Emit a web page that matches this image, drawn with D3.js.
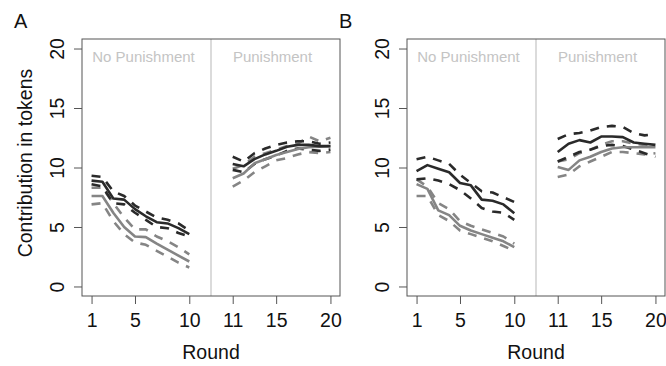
<!DOCTYPE html>
<html>
<head>
<meta charset="utf-8">
<script src="https://cdn.jsdelivr.net/npm/d3@7"></script>
<style>
  body { margin: 0; background: #fff; }
  svg { display: block; font-family: "Liberation Sans", Arial, Helvetica, sans-serif; }
</style>
</head>
<body>
<div id="chart"></div>
<script>
// rounds 1..20, values
const rounds = d3.range(1, 21);
const xTicks = [1, 5, 10, 11, 15, 20];
const yTicks = [0, 5, 10, 15, 20];
const phaseLabels = ["No Punishment", "Punishment"];

// panel A
const aDarkMean  = [8.9, 8.8, 7.4, 7.3, 6.5, 5.9, 5.4, 5.3, 4.9, 4.4,   10.3, 10.1, 10.7, 11.1, 11.4, 11.75, 11.9, 11.9, 11.8, 11.8];
const aDarkUpper = [9.3, 9.2, 8.0, 7.6, 6.8, 6.3, 5.8, 5.6, 5.3, 4.7,   10.9, 10.5, 11.2, 11.6, 11.9, 12.1, 12.2, 12.2, 12.0, 12.1];
const aDarkLower = [8.6, 8.4, 7.0, 6.9, 6.2, 5.6, 5.0, 4.9, 4.5, 4.2,   9.8, 9.6, 10.3, 10.7, 11.0, 11.4, 11.6, 11.5, 11.4, 11.5];
const aGrayMean  = [7.6, 7.6, 6.2, 5.0, 4.2, 4.15, 3.6, 3.1, 2.6, 2.1, 9.1, 9.5, 10.35, 10.7, 11.05, 11.3, 11.55, 11.7, 11.75, 11.8];
const aGrayUpper = [8.3, 8.3, 7.0, 5.8, 4.8, 4.8, 4.2, 3.8, 3.3, 2.7,  9.9, 10.2, 10.9, 11.2, 11.5, 11.8, 12.0, 12.6, 12.2, 12.5];
const aGrayLower = [6.9, 7.0, 5.5, 4.4, 3.7, 3.5, 3.0, 2.5, 2.0, 1.6,  8.4, 8.9, 9.6, 10.1, 10.6, 10.8, 11.1, 11.3, 11.2, 11.3];

// panel B
const bDarkMean  = [9.7, 10.2, 9.9, 9.6, 8.7, 8.5, 7.3, 7.2, 6.9, 6.15, 11.3, 12.0, 12.3, 12.1, 12.6, 12.6, 12.55, 12.1, 12.0, 11.9];
const bDarkUpper = [10.7, 10.9, 10.6, 10.3, 9.4, 8.7, 8.0, 7.9, 7.5, 7.1, 12.4, 12.8, 12.9, 13.1, 13.4, 13.5, 13.4, 12.9, 12.7, 12.8];
const bDarkLower = [9.0, 9.1, 8.9, 8.6, 8.1, 7.4, 6.6, 6.3, 6.2, 5.6,  10.5, 10.9, 11.3, 11.5, 11.8, 11.9, 11.8, 11.5, 11.2, 10.9];
const bGrayMean  = [8.6, 8.2, 6.4, 6.0, 5.1, 4.7, 4.4, 4.1, 3.8, 3.3,  10.05, 9.8, 10.6, 10.9, 11.3, 11.6, 11.7, 11.7, 11.7, 11.7];
const bGrayUpper = [9.0, 8.4, 7.0, 6.5, 5.5, 5.1, 4.8, 4.5, 4.2, 3.6,  10.5, 10.7, 11.2, 11.5, 11.9, 12.2, 12.2, 12.0, 11.9, 11.9];
const bGrayLower = [7.6, 7.6, 6.0, 5.5, 4.7, 4.4, 4.1, 3.8, 3.4, 3.0,  9.2, 9.4, 10.1, 10.5, 10.9, 11.3, 11.3, 11.2, 11.1, 11.2];

const dark = "#2a2a2a", gray = "#858585";

const W = 666, H = 366;
const svg = d3.select("#chart").append("svg")
  .attr("width", W).attr("height", H)
  .attr("viewBox", [0, 0, W, H]);

// rounds 11-20 are shifted right by a gap of 3 units
const pos = r => r <= 10 ? r : r + 3;

const y = d3.scaleLinear().domain([-0.8, 20.8]).range([296, 39]);

function drawPanel(left, letter, series) {
  const x = d3.scaleLinear().domain([0.12, 23.88]).range([left, left + 258]);
  const g = svg.append("g");

  // divider between the two phases
  g.append("line")
    .attr("x1", x(12)).attr("x2", x(12))
    .attr("y1", y(-0.8)).attr("y2", y(20.8))
    .attr("stroke", "#cfcfcf").attr("stroke-width", 1.5);

  g.append("text").attr("x", (x(0.12) + x(12)) / 2 - 3).attr("y", 61.5)
    .attr("text-anchor", "middle").attr("font-size", 15).attr("fill", "#c4c4c4")
    .text(phaseLabels[0]);
  g.append("text").attr("x", (x(12) + x(23.88)) / 2 - 3).attr("y", 61.5)
    .attr("text-anchor", "middle").attr("font-size", 15).attr("fill", "#c4c4c4")
    .text(phaseLabels[1]);

  const line = d3.line().x(d => x(pos(d[0]))).y(d => y(d[1]));

  series.forEach(s => {
    [rounds.slice(0, 10), rounds.slice(10)].forEach(seg => {
      g.append("path")
        .datum(seg.map(r => [r, s.values[r - 1]]))
        .attr("d", line)
        .attr("fill", "none")
        .attr("stroke", s.color)
        .attr("stroke-width", 2.6)
        .attr("stroke-dasharray", s.dash ? "9,8" : null)
        .attr("stroke-linejoin", "round");
    });
  });

  // box
  g.append("rect")
    .attr("x", x(0.12)).attr("y", y(20.8))
    .attr("width", x(23.88) - x(0.12)).attr("height", y(-0.8) - y(20.8))
    .attr("fill", "none").attr("stroke", "#555").attr("stroke-width", 1);

  const xAxis = g.append("g")
    .attr("transform", `translate(0,${y(-0.8)})`)
    .call(d3.axisBottom(x)
      .tickValues(xTicks.map(pos))
      .tickFormat((d, i) => xTicks[i])
      .tickSize(8).tickSizeOuter(0).tickPadding(9));
  xAxis.select(".domain").remove();
  xAxis.selectAll("line").attr("stroke", "#555");
  xAxis.selectAll("text").attr("font-size", 19.5).attr("fill", "#111")
    .attr("font-family", null);

  const yAxis = g.append("g")
    .attr("transform", `translate(${x(0.12)},0)`)
    .call(d3.axisLeft(y).tickValues(yTicks).tickSize(8).tickSizeOuter(0));
  yAxis.select(".domain").remove();
  yAxis.selectAll("line").attr("stroke", "#555");
  yAxis.selectAll("text")
    .attr("x", null).attr("dy", null)
    .attr("transform", "translate(-18,0) rotate(-90)")
    .attr("text-anchor", "middle")
    .attr("font-size", 19.5).attr("fill", "#111")
    .attr("font-family", null);

  g.append("text").attr("x", (x(0.12) + x(23.88)) / 2).attr("y", 359)
    .attr("text-anchor", "middle").attr("font-size", 19.5).attr("fill", "#111")
    .text("Round");

  g.append("text").attr("x", left - 68).attr("y", 28)
    .attr("font-size", 20).attr("fill", "#111")
    .text(letter);

  return g;
}

drawPanel(82, "A", [
  { values: aGrayUpper, color: gray, dash: true },
  { values: aGrayLower, color: gray, dash: true },
  { values: aDarkUpper, color: dark, dash: true },
  { values: aDarkLower, color: dark, dash: true },
  { values: aGrayMean, color: gray, dash: false },
  { values: aDarkMean, color: dark, dash: false }
]);

drawPanel(407, "B", [
  { values: bGrayUpper, color: gray, dash: true },
  { values: bGrayLower, color: gray, dash: true },
  { values: bDarkUpper, color: dark, dash: true },
  { values: bDarkLower, color: dark, dash: true },
  { values: bGrayMean, color: gray, dash: false },
  { values: bDarkMean, color: dark, dash: false }
]);

svg.append("text")
  .attr("transform", "translate(32,163) rotate(-90)")
  .attr("text-anchor", "middle").attr("font-size", 19.5).attr("fill", "#111")
  .text("Contribution in tokens");
</script>
</body>
</html>
